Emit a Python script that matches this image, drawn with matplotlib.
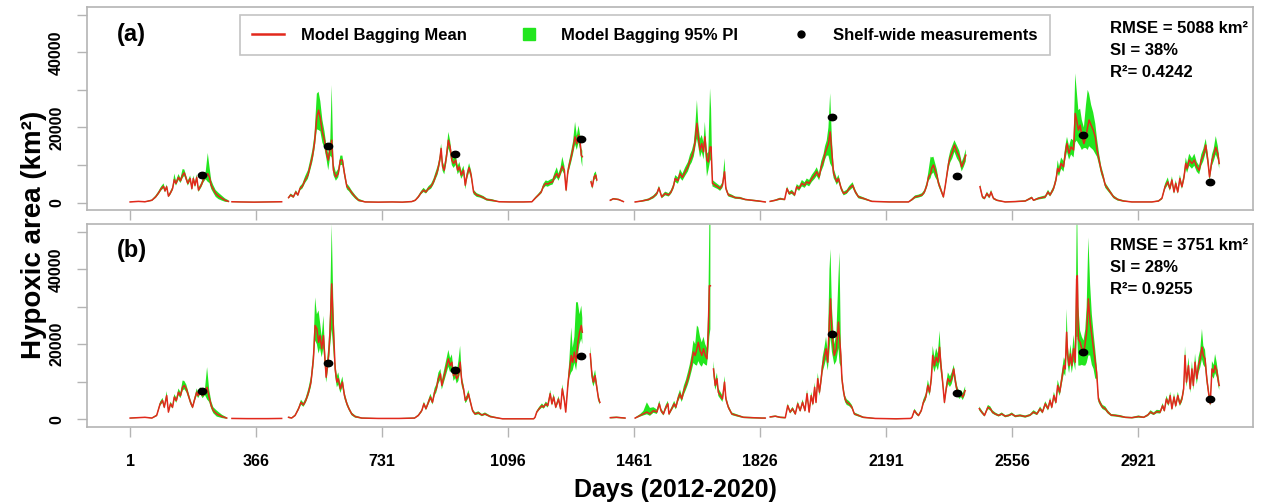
import numpy as np
import matplotlib.pyplot as plt
from matplotlib.lines import Line2D
from matplotlib.markers import MarkerStyle
from matplotlib.transforms import Affine2D

plt.rcParams['font.family'] = ['Liberation Sans', 'DejaVu Sans']
plt.rcParams['font.weight'] = 'bold'

nan = np.nan

# ---------------- panel (a): bagging model, daily hypoxic area (km2) ----------------
days_a = [
    1, 25, 44, 64, 75, 83, 91, 98, 102, 107, 112, 117, 124, 129, 134, 141, 147, 153, 158, 162,
    168, 175, 180, 184, 189, 194, 199, 207, 213, 220, 226, 231, 236, 242, 249, 257, 267, 276, 286, 291,
    296, 320, 360, 400, 440, 445, 460, 466, 474, 481, 487, 493, 500, 508, 516, 522, 529, 535, 542, 547,
    552, 558, 564, 570, 575, 581, 585, 590, 597, 604, 610, 616, 622, 629, 635, 643, 653, 663, 682, 720,
    760, 790, 817,
    827, 836, 844, 851, 858, 865, 873, 880, 887, 892, 898, 902, 906, 911, 917, 923, 928, 933, 938, 944,
    950, 955, 960, 967, 972, 976, 983, 989, 996, 1005, 1015, 1025, 1034, 1049, 1070, 1100, 1140, 1165,
    1169, 1176, 1184, 1192, 1198, 1205, 1211, 1218, 1225, 1230, 1237, 1242, 1248, 1253, 1259, 1264, 1269, 1273, 1279, 1284,
    1290, 1295, 1300, 1305, 1308, 1311, 1320, 1336, 1340, 1345, 1350, 1353, 1370, 1392, 1401, 1416, 1430, 1448,
    1464, 1483, 1503, 1517, 1527, 1533, 1541, 1551, 1561, 1568, 1575, 1580, 1588, 1594, 1601, 1609, 1617, 1623, 1628, 1634,
    1638, 1643, 1647, 1652, 1657, 1662, 1666, 1672, 1676, 1681, 1684, 1688, 1696, 1703, 1710, 1717, 1723, 1727, 1734, 1744,
    1754, 1768, 1783, 1802, 1821, 1841, 1848,
    1855, 1870, 1884, 1897, 1904, 1910, 1918, 1926, 1932, 1939, 1947, 1955, 1961, 1968, 1976, 1984, 1990, 1997, 2003, 2010,
    2014, 2019, 2024, 2029, 2034, 2039, 2043, 2048, 2053, 2061, 2068, 2077, 2084, 2094, 2102, 2111, 2125, 2150, 2200, 2256,
    2266, 2275, 2285, 2295, 2302, 2309, 2314, 2320, 2323, 2328, 2333, 2338, 2343, 2350, 2357, 2362, 2367, 2372, 2377, 2383,
    2389, 2396, 2403, 2410, 2416, 2422, 2440,
    2463, 2470, 2476, 2483, 2490, 2495, 2502, 2512, 2536, 2565, 2594, 2613, 2618, 2632, 2652, 2660, 2666, 2676, 2683, 2688,
    2692, 2698, 2705, 2710, 2715, 2721, 2727, 2734, 2739, 2743, 2748, 2753, 2758, 2764, 2770, 2775, 2779, 2785, 2791, 2797,
    2802, 2808, 2814, 2820, 2826, 2833, 2840, 2850, 2862, 2879, 2903, 2961, 2980,
    2990, 2999, 3007, 3013, 3019, 3025, 3030, 3036, 3042, 3048, 3054, 3059, 3063, 3069, 3077, 3084, 3091, 3098, 3104, 3110,
    3117, 3123, 3128, 3135, 3140, 3146, 3152, 3156,
]
mean_a = [
    150, 300, 200, 600, 1500, 2500, 3700, 4300, 3100, 4200, 1700, 2400, 3700, 6100, 5100, 6700, 5800, 7300, 7900, 6800,
    5100, 6400, 3700, 6400, 4600, 6700, 3300, 4600, 6000, 7000, 7700, 6700, 4600, 3500, 2400, 1700, 1100, 600, 300, nan,
    200, 150, 100, 150, 200, nan, 1300, 2000, 1500, 2800, 2000, 3700, 4300, 6000, 7300, 9500, 12200, 15700, 22800, 24600,
    22400, 18800, 16600, 13100, 11300, 14800, 16600, 8600, 6800, 7700, 11300, 11300, 7700, 4200, 3700, 2600, 1500, 600, 150, 100,
    150, 100, 250,
    600, 1500, 2600, 3300, 2800, 3700, 4300, 5500, 7300, 8600, 11300, 14400, 9700, 8600, 12000, 16600, 14800, 11300, 10400, 11300,
    8600, 9500, 7300, 8600, 4600, 6800, 9300, 7300, 2800, 2000, 1700, 1300, 800, 600, 200, 150, 150, 200,
    600, 1300, 2000, 2800, 4300, 5100, 4900, 5300, 5500, 6800, 7700, 6700, 8200, 9700, 8600, 3300, 8200, 9900, 12200, 14400,
    17500, 15700, 17900, 15700, 12600, 12200, nan, 5500, 4200, 6800, 7300, 6000, nan, 600, 1000, 800, 250, nan,
    150, 400, 800, 1500, 2400, 3900, 1500, 2400, 2000, 2800, 4300, 6400, 5800, 7700, 6700, 8200, 9500, 11300, 12200, 14000,
    16600, 21100, 17500, 14000, 15700, 13500, 17500, 11300, 10800, 14800, 14800, 5100, 4600, 4200, 3700, 4600, 8200, 3700, 2000, 1700,
    1300, 1200, 800, 600, 400, 150, nan,
    300, 600, 1000, 800, 3700, 2400, 2800, 2000, 4200, 3700, 5100, 4600, 5500, 5100, 6400, 7300, 8200, 6800, 9500, 11300,
    13100, 14400, 15700, 18800, 13100, 7700, 6800, 5500, 6400, 3700, 2400, 2800, 3700, 4600, 2800, 1500, 1100, 300, 150, 150,
    800, 1500, 1700, 2000, 2800, 4600, 6800, 7700, 9100, 10000, 8600, 7300, 5100, 3300, 1500, 4200, 7300, 10400, 12200, 13500,
    15300, 13500, 12200, 9500, 10800, 12600, nan,
    4200, 1500, 1100, 2400, 1500, 2800, 1100, 600, 150, 250, 400, 1300, 600, 1100, 1500, 2800, 2000, 3700, 6000, 9100,
    8200, 10400, 9500, 13100, 15700, 13100, 14800, 14000, 23700, 22000, 19300, 20600, 17900, 15700, 17500, 20200, 22000, 20600, 19300, 17500,
    14000, 11300, 8600, 6800, 4600, 3700, 2800, 1500, 800, 400, 150, 150, 400,
    1100, 4200, 5500, 3700, 6000, 2800, 5100, 2800, 6400, 4200, 6800, 10400, 9100, 11300, 10400, 11300, 9500, 8600, 11300, 12600,
    15300, 11300, 6800, 11300, 12600, 14700, 13100, 10400,
]
lo_a = [
    100, 200, 100, 400, 1200, 2100, 3200, 3800, 2700, 3700, 1400, 2000, 3200, 5400, 4500, 6000, 5200, 6500, 7100, 6100,
    4500, 5700, 3200, 5700, 4000, 6000, 2800, 4000, 5300, 6200, 5500, 5200, 3600, 2600, 1500, 900, 500, 200, 100, nan,
    100, 50, 0, 50, 100, nan, 1000, 1700, 1200, 2400, 1700, 3200, 3700, 5200, 6300, 8300, 10800, 14000, 19500, 19300,
    19000, 16000, 14500, 11500, 8600, 12500, 12000, 7300, 5800, 6700, 10000, 10000, 6600, 3500, 3000, 2000, 1000, 300, 50, 0,
    50, 0, 100,
    400, 1200, 2200, 2800, 2400, 3200, 3700, 4800, 6400, 7500, 10000, 12500, 8500, 7500, 10500, 14500, 13000, 10000, 9200, 10000,
    7500, 8400, 6300, 7500, 3500, 5800, 8200, 6300, 2200, 1500, 1300, 900, 500, 300, 100, 50, 50, 100,
    400, 1000, 1700, 2400, 3700, 4400, 4200, 4600, 4800, 5900, 6700, 5800, 7200, 8500, 7500, 2700, 7200, 8700, 10800, 12800,
    15500, 14000, 16000, 14000, 11000, 9500, nan, 4800, 3600, 6000, 6400, 5200, nan, 400, 800, 600, 150, nan,
    50, 200, 500, 1100, 1900, 3300, 1100, 1900, 1600, 2300, 3600, 5500, 5000, 6600, 5800, 7100, 8300, 9900, 10700, 12300,
    14500, 17000, 15000, 12000, 13500, 11500, 15000, 6900, 8500, 11000, 11500, 4300, 3900, 3600, 3100, 3900, 7000, 3100, 1600, 1300,
    1000, 900, 600, 400, 200, 50, nan,
    150, 400, 700, 600, 3200, 2000, 2300, 1600, 3600, 3100, 4300, 3900, 4700, 4300, 5500, 6300, 7100, 5900, 8200, 9800,
    11400, 12500, 12500, 10400, 9500, 6500, 5800, 4700, 5500, 3100, 1900, 2300, 3100, 3900, 2300, 1100, 800, 150, 50, 50,
    500, 1100, 1300, 1600, 2300, 3900, 5800, 6500, 7500, 8000, 6800, 6000, 4300, 2700, 1100, 3600, 6300, 9100, 10700, 11800,
    13500, 11800, 10700, 8300, 9500, 11000, nan,
    3600, 1100, 800, 1900, 1100, 2300, 800, 400, 50, 100, 200, 1000, 400, 800, 1100, 2300, 1600, 3100, 5100, 7800,
    7000, 9000, 8200, 11400, 13500, 11400, 12800, 12000, 16000, 16500, 15700, 15000, 14000, 14500, 14500, 14000, 15000, 14500, 14000, 13000,
    12200, 10000, 7500, 5900, 3900, 3100, 2300, 1100, 500, 200, 50, 50, 200,
    800, 3500, 4700, 3100, 5100, 2300, 4300, 2300, 5500, 3600, 5800, 9000, 7900, 9800, 9000, 9800, 8200, 7500, 9800, 11000,
    13400, 9800, 5800, 9800, 11000, 12800, 11400, 9000,
]
hi_a = [
    200, 400, 300, 800, 1900, 3000, 4300, 5100, 3600, 4800, 2100, 2900, 4300, 7700, 5800, 7600, 6500, 8900, 8800, 7600,
    5800, 7200, 4300, 7200, 5300, 7500, 3900, 5300, 6800, 8200, 13200, 9500, 6000, 4600, 3300, 2600, 1800, 1100, 600, nan,
    300, 250, 200, 250, 300, nan, 1600, 2400, 1900, 3300, 2400, 4300, 5000, 7000, 8600, 11000, 14000, 18000, 29000, 29500,
    27000, 22000, 19000, 15000, 13000, 17000, 31300, 10500, 8000, 9000, 12500, 12500, 8800, 5000, 4400, 3200, 2000, 1000, 300, 200,
    250, 200, 400,
    800, 1900, 3100, 3900, 3300, 4300, 5000, 6400, 8400, 9800, 12500, 15700, 11000, 9800, 13500, 18800, 16500, 12700, 11700, 12700,
    9800, 10800, 8400, 9800, 5600, 7900, 10500, 8400, 3400, 2500, 2100, 1700, 1100, 900, 300, 250, 250, 300,
    800, 1600, 2400, 3300, 5000, 5900, 5700, 6100, 6400, 7800, 9400, 7700, 9400, 12200, 9800, 4000, 9400, 11200, 13800, 16200,
    21500, 17800, 20500, 17800, 14500, 13800, nan, 6300, 4900, 7700, 8300, 6900, nan, 800, 1200, 1000, 350, nan,
    250, 600, 1100, 1900, 2900, 4500, 1900, 2900, 2500, 3400, 5100, 7300, 6700, 8900, 7700, 9400, 10800, 12800, 13800, 15900,
    20000, 27300, 21000, 17000, 18000, 16000, 21500, 13000, 13500, 30400, 25000, 6000, 5400, 4900, 4400, 5400, 11800, 4400, 2500, 2100,
    1600, 1500, 1000, 800, 600, 250, nan,
    450, 800, 1300, 1000, 4300, 2900, 3400, 2500, 4900, 4400, 6000, 5400, 6400, 6000, 7400, 8400, 9400, 7800, 11000, 13000,
    15000, 16500, 20000, 29100, 17000, 9000, 8000, 6400, 7400, 4400, 2900, 3400, 4400, 5400, 3400, 1900, 1400, 450, 250, 250,
    1100, 1900, 2100, 2500, 3400, 5600, 8500, 12200, 12000, 12200, 10500, 8800, 6000, 4000, 2000, 4900, 8400, 11800, 13800, 15200,
    16600, 15200, 13800, 10800, 12200, 14200, nan,
    4900, 1900, 1400, 2900, 1900, 3400, 1400, 800, 250, 400, 600, 1600, 800, 1400, 1900, 3400, 2500, 4400, 7000, 11300,
    9500, 12000, 11000, 15000, 17500, 15000, 17000, 16500, 34400, 30000, 24600, 25000, 22000, 20000, 26000, 30000, 29000, 26000, 24000, 21000,
    17000, 13000, 9800, 7800, 5300, 4300, 3300, 1900, 1100, 600, 250, 250, 600,
    1400, 5000, 6700, 4400, 7000, 3400, 6000, 3400, 7400, 4900, 7900, 12000, 10500, 13000, 11800, 13000, 10800, 9800, 12800, 14300,
    17000, 12800, 7800, 12800, 14300, 17700, 15000, 11800,
]

# ---------------- panel (b) ----------------
days_b = [
    1, 25, 44, 64, 78, 88, 95, 100, 107, 112, 118, 124, 129, 135, 141, 147, 153, 158, 164, 170,
    176, 182, 187, 194, 198, 204, 211, 218, 224, 230, 236, 242, 252, 267, 281, 292,
    296, 340, 400, 440, 450, 460, 469, 479, 489, 496, 503, 510, 518, 525, 532, 537, 542, 547, 551, 556,
    561, 566, 569, 576, 580, 585, 590, 595, 600, 604, 610, 616, 622, 629, 635, 643, 653, 672, 720, 780,
    825,
    836, 846, 852, 858, 865, 871, 877, 883, 888, 894, 900, 904, 923, 928, 933, 938, 943, 947, 952, 957,
    962, 967, 972, 976, 981, 987, 993, 1000, 1010, 1020, 1029, 1044, 1056, 1080, 1120, 1170,
    1174, 1179, 1186, 1194, 1199, 1205, 1211, 1218, 1223, 1228, 1234, 1242, 1248, 1253, 1259, 1263, 1269, 1273, 1279, 1283,
    1288, 1293, 1298, 1303, 1308, 1311, 1320, 1334, 1339, 1343, 1348, 1353, 1358, 1362, 1375, 1392, 1410, 1435, 1448,
    1464, 1479, 1488, 1498, 1507, 1517, 1527, 1534, 1539, 1546, 1553, 1559, 1562, 1570, 1577, 1582, 1588, 1594, 1599, 1605,
    1611, 1617, 1622, 1628, 1633, 1638, 1643, 1647, 1652, 1657, 1662, 1667, 1672, 1676, 1679, 1682, 1686, 1691, 1696, 1701,
    1705, 1711, 1717, 1723, 1727, 1734, 1744, 1759, 1778, 1802, 1831, 1841, 1848,
    1855, 1870, 1884, 1899, 1906, 1913, 1920, 1928, 1935, 1942, 1949, 1956, 1962, 1968, 1974, 1979, 1984, 1988, 1993, 1998,
    2003, 2007, 2013, 2017, 2022, 2027, 2030, 2034, 2038, 2041, 2047, 2053, 2056, 2060, 2063, 2068, 2072, 2077, 2084, 2092,
    2099, 2111, 2125, 2160, 2220, 2262,
    2266, 2273, 2280, 2285, 2293, 2299, 2306, 2312, 2317, 2322, 2326, 2331, 2336, 2341, 2346, 2350, 2354, 2360, 2365, 2370,
    2376, 2381, 2387, 2392, 2397, 2403, 2408, 2413, 2420, 2440,
    2461, 2468, 2476, 2486, 2493, 2499, 2507, 2517, 2526, 2536, 2546, 2555, 2565, 2579, 2594, 2608, 2618, 2628, 2637, 2644,
    2652, 2660, 2666, 2671, 2677, 2683, 2688, 2694, 2700, 2706, 2710, 2714, 2717, 2721, 2725, 2729, 2734, 2739, 2743, 2745,
    2748, 2753, 2758, 2763, 2768, 2772, 2777, 2782, 2787, 2792, 2797, 2801, 2806, 2812, 2818, 2826, 2833, 2843, 2855, 2869,
    2884, 2903, 2922, 2937, 2949, 2957, 2966, 2975, 2985,
    2992, 2997, 3003, 3009, 3014, 3019, 3025, 3030, 3036, 3042, 3048, 3053, 3057, 3061, 3067, 3072, 3077, 3081, 3086, 3091,
    3096, 3101, 3106, 3110, 3115, 3120, 3125, 3130, 3135, 3140, 3144, 3149, 3154, 3156,
]
mean_b = [
    300, 400, 500, 300, 1000, 4100, 5000, 3200, 6300, 1900, 4100, 3200, 5900, 5000, 7200, 6300, 8500, 9000, 8100, 6300,
    4500, 3200, 5000, 7200, 6300, 7600, 6300, 7200, 8500, 5900, 3600, 2300, 1400, 700, 300, nan,
    200, 150, 150, 200, nan, 500, 300, 1000, 2800, 4500, 3800, 5000, 7200, 9900, 16100, 25000, 24100, 20500, 22300, 18800,
    22300, 15200, 11200, 17000, 23200, 36100, 24100, 13400, 9900, 10800, 8100, 9900, 6300, 4100, 2800, 1400, 700, 300, 200, 200,
    300,
    1000, 2300, 4100, 2800, 4500, 5900, 4500, 7200, 8100, 10800, 12100, 9000, 16100, 14300, 15200, 11600, 12500, 10800, 11600, 15200,
    9900, 8100, 5000, 5400, 6800, 4500, 2300, 1400, 1700, 1100, 1400, 700, 500, 100, 100, 100,
    500, 1900, 2800, 3600, 3200, 4100, 3600, 6800, 4100, 5900, 3200, 5400, 2800, 8100, 5000, 1900, 9000, 12500, 17000, 15200,
    17900, 15200, 20500, 23200, 25000, 23200, nan, 17400, 11600, 9900, 11600, 8500, 5400, 4500, nan, 400, 500, 300, nan,
    300, 1000, 1400, 1900, 1400, 2300, 1900, 4100, 2300, 1400, 3200, 4100, 1400, 2800, 4100, 3200, 5400, 6800, 5400, 7600,
    9000, 10800, 12500, 15200, 17900, 17000, 18800, 20500, 18300, 17000, 18800, 17000, 16100, 24100, 35600, 35600, nan, 13400, 9000, 10800,
    7200, 6300, 5400, 9900, 5400, 3200, 1400, 1000, 500, 400, 300, 300, nan,
    600, 800, 500, 400, 3600, 1900, 2800, 1400, 4100, 2300, 4500, 2300, 6800, 1900, 6300, 4100, 8500, 4500, 10800, 7200,
    10800, 14300, 17000, 18800, 15200, 26800, 32100, 23200, 19600, 17000, 18800, 25900, 22000, 17000, 10800, 7200, 5400, 4500, 4100, 3200,
    1400, 1000, 500, 200, 100, 200,
    500, 2300, 1400, 1000, 2300, 4500, 5900, 9000, 7200, 10800, 17000, 14300, 16500, 15200, 19200, 14300, 10800, 4500, 8100, 10800,
    9900, 10800, 13400, 9900, 7600, 6300, 6800, 5900, 7600, nan,
    2800, 1900, 1000, 3200, 2800, 1900, 1400, 1000, 1400, 800, 1000, 1400, 800, 1000, 700, 1100, 1900, 1400, 2800, 1900,
    4100, 2800, 5000, 3200, 6300, 4500, 9000, 7200, 10800, 14300, 13400, 23200, 17000, 14300, 17400, 14300, 18800, 15200, 37400, 38300,
    21400, 20500, 18800, 17000, 20500, 23200, 32100, 25900, 22300, 18800, 15200, 12500, 5400, 4100, 3200, 2800, 1900, 1100, 1000, 800,
    500, 400, 700, 500, 1100, 1900, 1400, 2000, 1900,
    3600, 2300, 5400, 4100, 6300, 2800, 5900, 3600, 6300, 4100, 5400, 8100, 17000, 9900, 14300, 8100, 13400, 9000, 15200, 10800,
    14300, 16100, 19200, 17000, 16100, 10800, 7200, 4100, 13400, 12500, 14300, 13000, 9900, 9000,
]
lo_b = [
    200, 300, 400, 200, 800, 3600, 4400, 2800, 5600, 1600, 3600, 2800, 5200, 4400, 6400, 5600, 7600, 8000, 7200, 5600,
    3900, 2800, 4400, 6400, 5600, 6700, 5600, 6400, 5300, 4600, 2800, 1600, 700, 300, 100, nan,
    100, 50, 50, 100, nan, 300, 200, 800, 2400, 3900, 3300, 4400, 6300, 8700, 14000, 21000, 20000, 17500, 19000, 16500,
    19000, 13000, 9800, 14500, 19000, 24000, 18000, 11500, 8500, 9300, 7000, 8600, 5400, 3500, 2300, 1000, 400, 150, 100, 100,
    150,
    800, 1900, 3600, 2400, 3900, 5200, 3900, 6300, 7100, 9500, 10600, 7900, 14000, 12500, 13300, 10200, 11000, 9500, 10200, 13000,
    8700, 7100, 4300, 4700, 5900, 3900, 1900, 1100, 1300, 800, 1100, 500, 300, 0, 0, 0,
    300, 1600, 2400, 3100, 2800, 3600, 3100, 6000, 3600, 5200, 2800, 4700, 2400, 7100, 4400, 1600, 7900, 11000, 12500, 13000,
    15000, 13000, 17000, 20000, 21500, 20000, nan, 15500, 10200, 8700, 10200, 7500, 4700, 3900, nan, 200, 300, 150, nan,
    150, 700, 1000, 1300, 900, 1700, 1400, 3400, 1800, 1000, 2600, 3400, 1000, 2300, 3400, 2600, 4600, 5800, 4600, 6500,
    7800, 9300, 10800, 13000, 15000, 14500, 14300, 15500, 14500, 14000, 15000, 14500, 14300, 18000, 22000, 24000, nan, 11500, 7800, 9300,
    6200, 5400, 4600, 8500, 4600, 2700, 1100, 700, 300, 200, 150, 150, nan,
    400, 600, 300, 200, 3100, 1500, 2300, 1100, 3500, 1900, 3900, 1900, 5900, 1500, 5400, 3500, 7400, 3900, 9400, 6200,
    9400, 12500, 14500, 16000, 13000, 18000, 22000, 18000, 16000, 14500, 15500, 19000, 15000, 14000, 9300, 6200, 4600, 3800, 3500, 2700,
    1100, 700, 300, 100, 0, 100,
    300, 1900, 1100, 700, 1900, 3900, 5100, 7800, 6200, 9400, 14500, 12500, 14300, 13000, 15500, 12000, 9400, 3900, 7000, 9400,
    8600, 9400, 11600, 8600, 6600, 5400, 5900, 5100, 6600, nan,
    2300, 1500, 700, 2700, 2300, 1500, 1100, 700, 1100, 500, 700, 1100, 500, 700, 400, 800, 1500, 1100, 2300, 1500,
    3500, 2300, 4300, 2700, 5400, 3900, 7800, 6200, 9300, 12300, 11500, 18000, 14500, 12300, 15000, 12300, 15500, 13000, 22000, 22000,
    14300, 14300, 14500, 14300, 14300, 15000, 17000, 17000, 14500, 13400, 10800, 10800, 4600, 3500, 2700, 2300, 1500, 800, 700, 500,
    300, 200, 400, 300, 800, 1500, 1100, 1600, 1500,
    3000, 1900, 4600, 3500, 5400, 2300, 5100, 3000, 5400, 3500, 4600, 7000, 14500, 8600, 12300, 7000, 11500, 7800, 13000, 9300,
    12300, 13800, 16000, 14500, 13800, 9300, 6200, 3500, 11500, 10800, 12300, 11200, 8600, 7800,
]
hi_b = [
    400, 500, 600, 400, 1300, 4700, 5700, 3700, 7500, 2300, 4700, 3700, 6700, 5700, 8200, 7200, 10300, 10200, 9200, 7200,
    5200, 3700, 5700, 8200, 7200, 8600, 7200, 8200, 13900, 8000, 4800, 3200, 2300, 1200, 500, nan,
    300, 250, 250, 300, nan, 700, 500, 1300, 3300, 5200, 4400, 5800, 8400, 11500, 18500, 32500, 28000, 29000, 26000, 22000,
    27600, 17500, 13000, 20000, 28000, 52100, 30000, 15500, 11500, 12500, 9400, 11400, 7300, 4800, 3300, 1800, 1000, 450, 300, 300,
    450,
    1300, 2700, 4700, 3300, 5200, 6800, 5200, 8300, 9300, 12400, 13400, 10300, 18500, 16300, 17300, 13200, 14200, 12300, 15500, 19600,
    11300, 9200, 5800, 6300, 7800, 5200, 2800, 1800, 2100, 1400, 1800, 1000, 700, 200, 200, 200,
    700, 2300, 3300, 4200, 3700, 4700, 4200, 7800, 4700, 6800, 3700, 6200, 3300, 9300, 5800, 2300, 10500, 15200, 24500, 19000,
    22000, 31200, 31200, 28000, 30300, 27000, nan, 19500, 13200, 11300, 13200, 9700, 6200, 5200, nan, 600, 700, 450, nan,
    450, 1400, 2200, 4500, 3000, 3200, 2600, 5000, 2900, 1900, 3900, 4900, 1900, 3400, 4900, 3900, 6300, 7900, 6300, 8900,
    10500, 12600, 14500, 17500, 21000, 20000, 25000, 24500, 22000, 20500, 22000, 20000, 19000, 30000, 52000, 52000, nan, 15500, 10400, 12400,
    8300, 7300, 6300, 11500, 6300, 3800, 1800, 1300, 700, 600, 450, 450, nan,
    800, 1000, 700, 600, 4200, 2300, 3300, 1800, 4800, 2800, 5300, 2800, 7900, 2300, 7300, 4800, 9800, 5300, 12400, 8400,
    12400, 16500, 19500, 22000, 18000, 40000, 45400, 30000, 24000, 20000, 23000, 38000, 44500, 20000, 12500, 8400, 6300, 5300, 4800, 3800,
    1800, 1300, 700, 300, 200, 300,
    700, 2800, 1800, 1300, 2800, 5300, 6900, 10500, 8400, 12500, 19600, 16500, 19000, 17500, 23600, 16500, 12500, 5300, 9400, 12500,
    11400, 12500, 14500, 11400, 8800, 7300, 7800, 6900, 8800, nan,
    3400, 2400, 1400, 3800, 3400, 2400, 1800, 1300, 1800, 1100, 1300, 1800, 1100, 1300, 1000, 1400, 2400, 1800, 3400, 2400,
    4800, 3400, 5800, 3800, 7300, 5300, 10500, 8400, 12500, 16500, 15500, 29400, 20000, 16500, 20000, 16500, 22500, 18000, 52000, 52000,
    30000, 23600, 22000, 21000, 24000, 30000, 48500, 36000, 28000, 23000, 18500, 14500, 6300, 4800, 3800, 3400, 2400, 1400, 1300, 1100,
    700, 600, 1000, 700, 1400, 2400, 1800, 2500, 2400,
    4300, 2800, 6300, 4800, 7300, 3400, 6900, 4300, 7300, 4800, 6300, 9400, 19500, 11400, 16500, 9400, 15500, 10400, 17500, 12500,
    16500, 18500, 24100, 19600, 18500, 12500, 8400, 4800, 15500, 14500, 17400, 15000, 11400, 10400,
]

# shelf-wide cruise measurements (same in both panels)
obs_days = [209, 573, 942, 1308, 2034, 2396, 2760, 3128]
obs_area = [7400, 15000, 13000, 16800, 22700, 7000, 18000, 5500]

tick_days = [1, 366, 731, 1096, 1461, 1826, 2191, 2556, 2921]
stats_a = ['RMSE = 5088 km²', 'SI = 38%', 'R²= 0.4242']
stats_b = ['RMSE = 3751 km²', 'SI = 28%', 'R²= 0.9255']

RED = '#e2281c'
GREEN = '#22e61e'
GREY = '#b4b4b4'

dot = MarkerStyle('o', transform=Affine2D().scale(1.3, 1.0))


def draw_panel(ax, d, m, lo, hi, tag, stats, show_labels):
    d = np.asarray(d, float)
    ax.fill_between(d, np.asarray(lo, float), np.asarray(hi, float),
                    color=GREEN, lw=0, zorder=1)
    ax.plot(d, np.asarray(m, float), color=RED, lw=1.1, zorder=2)
    ax.plot(obs_days, obs_area, ls='none', marker=dot, ms=4.6,
            color='black', zorder=3)

    ax.set_xlim(-124, 3254)
    ax.set_ylim(-2000, 52000)
    ax.set_xticks(tick_days)
    ax.set_xticklabels([str(t) for t in tick_days])
    ax.set_yticks(range(0, 50001, 10000))
    ax.set_yticklabels(['0', '', '20000', '', '40000', ''],
                       rotation=90, va='center')
    ax.tick_params(axis='both', length=7.5, width=1, color=GREY,
                   labelsize=11.5)
    ax.tick_params(axis='y', pad=9)
    ax.tick_params(axis='x', pad=12, labelbottom=show_labels)
    for s in ax.spines.values():
        s.set_color(GREY)
        s.set_linewidth(1.2)

    ax.text(0.026, 0.925, tag, transform=ax.transAxes, fontsize=17,
            ha='left', va='top')
    for i, line in enumerate(stats):
        ax.text(0.877, 0.873 - 0.109 * i, line, transform=ax.transAxes,
                fontsize=12, ha='left', va='baseline')


fig = plt.figure(figsize=(12.62, 5.04), dpi=100)
ax_a = fig.add_axes([0.0689, 0.5833, 0.924, 0.4022])
ax_b = fig.add_axes([0.0689, 0.1534, 0.924, 0.4016])

draw_panel(ax_a, days_a, mean_a, lo_a, hi_a, '(a)', stats_a, False)
draw_panel(ax_b, days_b, mean_b, lo_b, hi_b, '(b)', stats_b, True)

handles = [
    Line2D([], [], color=RED, lw=1.8),
    Line2D([], [], ls='none', marker='s', ms=9, color=GREEN),
    Line2D([], [], ls='none', marker='o', ms=5, color='black'),
]
leg = ax_a.legend(handles,
                  ['Model Bagging Mean', 'Model Bagging 95% PI', 'Shelf-wide measurements'],
                  loc='upper left', bbox_to_anchor=(0.1312, 0.755, 0.6948, 0.207),
                  mode='expand', ncol=3, fancybox=False, framealpha=1,
                  edgecolor='#c4c4c4', fontsize=12, handlelength=1.9,
                  handletextpad=1.0, borderpad=0.75, borderaxespad=0)
leg.get_frame().set_linewidth(1.2)

fig.text(0.027, 0.534, 'Hypoxic area (km²)', rotation=90, ha='center',
         va='center', fontsize=20)
fig.text(0.535, 0.028, 'Days (2012-2020)', ha='center', va='center',
         fontsize=18)

fig.savefig('out.png', dpi=100)
